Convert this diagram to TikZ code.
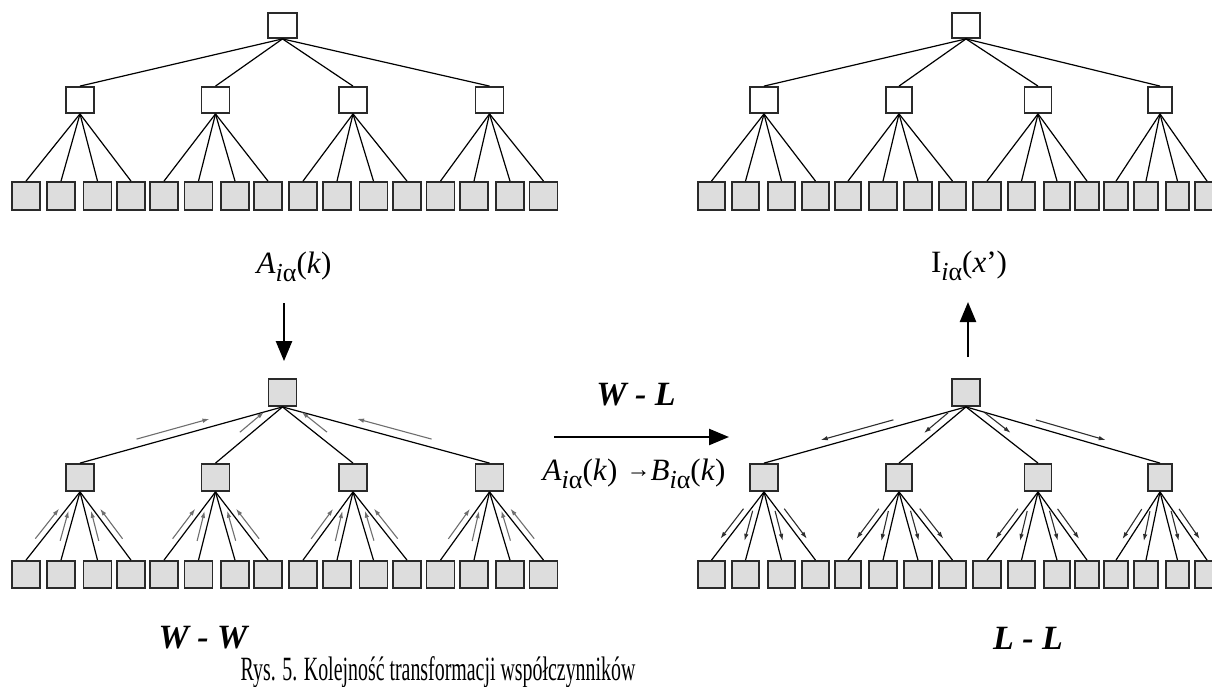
\documentclass[tikz,border=0pt]{standalone}
\usepackage{fontspec}
\setmainfont{Liberation Serif}
\usetikzlibrary{calc,arrows.meta}

\definecolor{leafgray}{HTML}{DDDDDD}
\definecolor{frame}{HTML}{2A2A2A}
\definecolor{uparrowcol}{HTML}{6E6E6E}
\definecolor{downarrowcol}{HTML}{2E2E2E}

% lowered index, as in A_{i alpha}
\newcommand\lowidx[1]{\raisebox{-0.28em}{\fontsize{26}{26}\selectfont #1}}

\begin{document}
\begin{tikzpicture}[x=1pt,y=-1pt,
  treebox/.style={draw=frame, line width=1.8pt, inner sep=0pt},
  openbox/.style={treebox, fill=white},
  greybox/.style={treebox, fill=leafgray},
  edge/.style={line width=1.2pt, black},
  upflow/.style={line width=1.1pt, uparrowcol, -{Latex[length=7pt,width=4.5pt]}},
  downflow/.style={line width=1.1pt, downarrowcol, -{Latex[length=7pt,width=4.5pt]}},
  bigarrow/.style={line width=2.4pt, black, -{Triangle[length=20pt,width=16pt]}},
  formula/.style={font=\fontsize{31}{31}\selectfont, inner sep=0pt},
  tag/.style={font=\fontsize{34}{34}\selectfont\bfseries\itshape, inner sep=0pt}
]
\useasboundingbox (0,0) rectangle (1212,687);

% ---------- top-left tree (plain) ----------
\node[openbox, minimum width=29, minimum height=25] (tlr) at (282.5,25.5) {};
\foreach \x [count=\i] in {80,215.5,353,489.5}
  \node[openbox, minimum width=28, minimum height=26] (tlm\i) at (\x,100) {};
\foreach \x [count=\i] in {26,61,97.5,131,164,198.5,235,268,303,337,373.5,407,440.5,474,510,543.5}
  \node[greybox, minimum width=28, minimum height=28] (tll\i) at (\x,196) {};

% ---------- top-right tree (plain) ----------
\node[openbox, minimum width=28, minimum height=25] (trr) at (966,25.5) {};
\foreach \x/\w [count=\i] in {764/28,899/26,1038/27,1160/24}
  \node[openbox, minimum width=\w, minimum height=26] (trm\i) at (\x,100) {};
\foreach \x/\w [count=\i] in {711.5/27,745.5/27,781.5/27,815.5/27,848/26,883/28,918/28,952.5/27,
                              987/28,1021.5/27,1057/26,1087/24,1116/24.5,1146/24,1177.5/23.5,1207/24}
  \node[greybox, minimum width=\w, minimum height=28] (trl\i) at (\x,196) {};

% ---------- bottom-left tree (W - W) ----------
\node[greybox, minimum width=28, minimum height=27] (blr) at (282.5,392.5) {};
\foreach \x [count=\i] in {80,215.5,353,489.5}
  \node[greybox, minimum width=28, minimum height=27] (blm\i) at (\x,477.5) {};
\foreach \x [count=\i] in {26,61,97.5,131,164,198.5,235,268,303,337,373.5,407,440.5,474,510,543.5}
  \node[greybox, minimum width=28, minimum height=27] (bll\i) at (\x,574.5) {};

% ---------- bottom-right tree (L - L) ----------
\node[greybox, minimum width=28, minimum height=27] (brr) at (966,392.5) {};
\foreach \x/\w [count=\i] in {764/28,899/26,1038/27,1160/24}
  \node[greybox, minimum width=\w, minimum height=27] (brm\i) at (\x,477.5) {};
\foreach \x/\w [count=\i] in {711.5/27,745.5/27,781.5/27,815.5/27,848/26,883/28,918/28,952.5/27,
                              987/28,1021.5/27,1057/26,1087/24,1116/24.5,1146/24,1177.5/23.5,1207/24}
  \node[greybox, minimum width=\w, minimum height=27] (brl\i) at (\x,574.5) {};

% ---------- tree edges ----------
\foreach \t in {tl,tr,bl,br}{
  \foreach \m in {1,...,4}{
    \draw[edge] (\t r.south) -- (\t m\m.north);
    \foreach \k in {1,...,4}{
      \pgfmathtruncatemacro\i{4*(\m-1)+\k}
      \draw[edge] (\t m\m.south) -- (\t l\i.north);
    }
  }
}

% ---------- flow arrows beside the edges ----------
% root level: outer edges carry longer arrows
\foreach \m/\a/\b/\ang in {1/0.35/0.71/-90, 2/0.20/0.56/-90, 3/0.20/0.56/90, 4/0.35/0.71/90}{
  \draw[upflow] ($(blr.south)!\b!(blm\m.north)!8pt!\ang:(blm\m.north)$)
             -- ($(blr.south)!\a!(blm\m.north)!8pt!\ang:(blm\m.north)$);
  \draw[downflow] ($(brr.south)!\a!(brm\m.north)!7pt!\ang:(brm\m.north)$)
               -- ($(brr.south)!\b!(brm\m.north)!7pt!\ang:(brm\m.north)$);
}
% leaf level
\foreach \m in {1,...,4}{
  \foreach \k/\ang in {1/-90,2/-90,3/90,4/90}{
    \pgfmathtruncatemacro\i{4*(\m-1)+\k}
    \draw[upflow] ($(blm\m.south)!0.74!(bll\i.north)!6pt!\ang:(bll\i.north)$)
               -- ($(blm\m.south)!0.30!(bll\i.north)!6pt!\ang:(bll\i.north)$);
    \draw[downflow] ($(brm\m.south)!0.30!(brl\i.north)!6pt!\ang:(brl\i.north)$)
                 -- ($(brm\m.south)!0.74!(brl\i.north)!6pt!\ang:(brl\i.north)$);
  }
}

% ---------- labels and main arrows ----------
\node[formula] (alab) at (294,267)
  {\textit{A}\lowidx{\textit{i}α}(\textit{k})};
\node[formula] (ilab) at (969,266)
  {I\lowidx{\textit{i}α}(\textit{x}’)};
\coordinate (adown) at (284,303);
\coordinate (aup) at (968,302);
\draw[bigarrow, shorten >=17pt] (adown) -- (adown |- blr.north);
\draw[bigarrow, shorten <=21pt] (brr.north -| aup) -- (aup);

\node[tag] (wl) at (636,395) {W - L};
\coordinate (wlfrom) at (554,437);
\coordinate (wlto) at (729,437);
\draw[bigarrow] (wlfrom) -- (wlto);
\node[formula] (ab) at (634,474)
  {\textit{A}\lowidx{\textit{i}α}(\textit{k})\hspace{0.3em}{\fontsize{24}{24}\selectfont\raisebox{0.12em}{→}}\textit{B}\lowidx{\textit{i}α}(\textit{k})};

\node[tag] (ww) at (203,638) {W - W};
\node[tag] (ll) at (1028,638) {L - L};
\node[inner sep=0pt, font=\fontsize{34}{34}\selectfont] (cap) at (438,672)
  {\scalebox{0.585}[1]{Rys. 5. Kolejność transformacji współczynników}};
\end{tikzpicture}
\end{document}
